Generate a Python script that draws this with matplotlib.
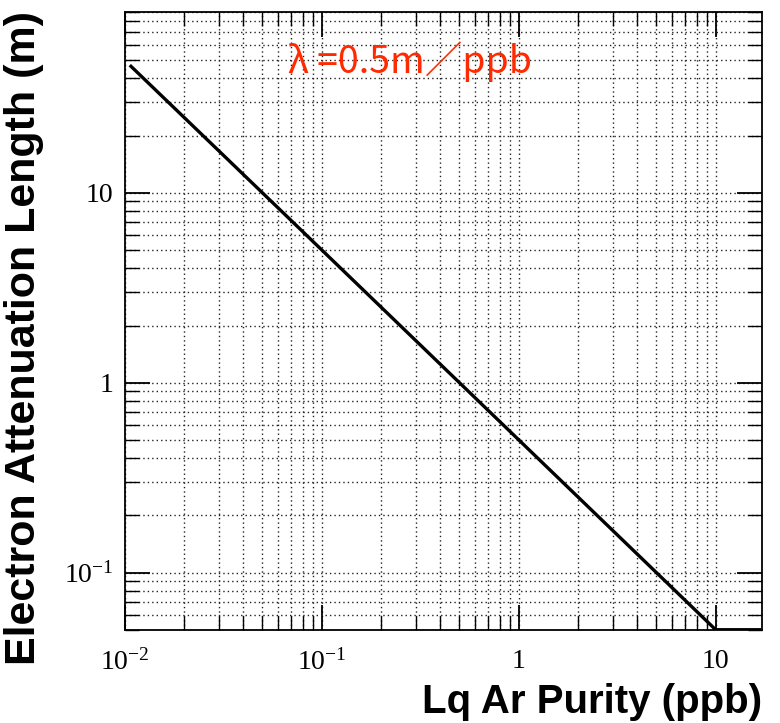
import matplotlib
matplotlib.use("Agg")
import matplotlib.pyplot as plt
from matplotlib.ticker import LogLocator, FixedLocator, NullFormatter

# values: lambda = 0.5 m/ppb / purity, clipped at the frame bottom
purity = [0.0106, 0.1, 1.0, 10.0, 17.0]
atten_len = [47.0, 5.0, 0.5, 0.05, 0.05]

x_ticks = [0.01, 0.1, 1, 10]
x_labels = [r"$\mathregular{10^{-2}}$", r"$\mathregular{10^{-1}}$", "1", "10"]
y_ticks = [0.1, 1, 10]
y_labels = [r"$\mathregular{10^{-1}}$", "1", "10"]

plt.rcParams["font.family"] = ["Liberation Serif", "DejaVu Serif"]

fig = plt.figure(figsize=(7.8, 7.23), dpi=100)
ax = fig.add_axes([0.160, 0.129, 0.817, 0.855])

ax.plot(purity, atten_len, color="black", lw=2.4, solid_capstyle="butt")
ax.set_xscale("log")
ax.set_yscale("log")
ax.set_xlim(0.01, 17.2)
ax.set_ylim(0.05, 90)

ax.xaxis.set_major_locator(FixedLocator(x_ticks))
ax.yaxis.set_major_locator(FixedLocator(y_ticks))
ax.set_xticklabels(x_labels)
ax.set_yticklabels(y_labels)
ax.xaxis.set_minor_locator(LogLocator(base=10, subs=range(2, 10), numticks=20))
ax.yaxis.set_minor_locator(LogLocator(base=10, subs=range(2, 10), numticks=20))
ax.xaxis.set_minor_formatter(NullFormatter())
ax.yaxis.set_minor_formatter(NullFormatter())

ax.tick_params(which="both", direction="in", top=True, right=True,
               color="black", labelsize=20)
ax.tick_params(which="major", length=18, width=1.3)
ax.tick_params(which="minor", length=10, width=1.0)
ax.tick_params(axis="x", which="major", pad=14)
ax.tick_params(axis="y", which="major", pad=8)

ax.grid(True, which="both", color="#222222", linestyle=(0, (1, 2.2)), lw=1.0)
for s in ax.spines.values():
    s.set_linewidth(1.3)

ax.text(0.256, 0.919, "λ =0.5m／ppb", transform=ax.transAxes,
        color="#ff2a00", fontsize=27, va="center", ha="left",
        family=["Noto Sans CJK JP", "DejaVu Sans"])

fig.text(0.977, 0.003, "Lq Ar Purity (ppb)", ha="right", va="bottom",
         fontsize=29, fontweight="bold", family=["Liberation Sans", "DejaVu Sans"])
fig.text(0.005, 0.985, "Electron Attenuation Length (m)", ha="left", va="top",
         rotation=90, fontsize=31, fontweight="bold",
         family=["Liberation Sans", "DejaVu Sans"])

fig.savefig("out.png", dpi=100)
